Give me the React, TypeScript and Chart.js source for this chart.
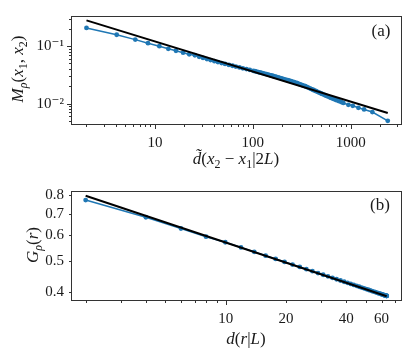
import React, { useEffect, useRef } from "react";
import { Chart, registerables } from "chart.js";
Chart.register(...registerables);

// ---------- Panel (a) data ----------
const topX = [2, 4.07, 6.3, 8.5, 11.1, 13.7, 16.4, 19.4, 22.4, 25.6, 28.3, 31, 34, 37, 40.5, 44, 48, 52, 57, 62, 67, 73, 79, 86, 93,
  101, 105, 109, 113.5, 118, 123, 128, 133, 138, 143.5, 149, 155, 161, 167.5, 174, 181, 188, 195.5, 203, 211, 219, 227.5, 236, 245, 254, 264, 274,
  284.5, 295, 306, 318, 330, 342, 355, 368, 382, 396, 411, 426, 442, 458, 475, 492, 510, 528, 547, 567, 588, 609, 631, 654, 678, 702, 730, 760, 800,
  840, 945, 1048, 1196, 1367, 1661, 2386];
const topY = [0.2075, 0.158, 0.13, 0.1125, 0.1, 0.09, 0.0832, 0.0769, 0.0723, 0.0695, 0.0651, 0.0624, 0.0597, 0.0572, 0.0548, 0.0528, 0.0507, 0.049, 0.0471, 0.0456, 0.0441, 0.04255, 0.0412, 0.0399, 0.0387,
  0.03724, 0.03666, 0.03607, 0.03544, 0.03483, 0.0342, 0.03365, 0.03305, 0.0325, 0.03195, 0.0314, 0.03083, 0.03026, 0.02971, 0.02918, 0.02865, 0.02808, 0.02758, 0.02704, 0.0265, 0.02598, 0.02547, 0.02498, 0.02449, 0.02404, 0.02356, 0.0231,
  0.02262, 0.02209, 0.02158, 0.02104, 0.02054, 0.02006, 0.01957, 0.01902, 0.01846, 0.01793, 0.01741, 0.01692, 0.01644, 0.016, 0.01556, 0.01514, 0.01473, 0.01434, 0.01397, 0.0136, 0.01323, 0.01289, 0.01256, 0.01225, 0.01194, 0.01165, 0.01134, 0.01102, 0.01063,
  0.01027, 0.00951, 0.00914, 0.00845, 0.00791, 0.00713, 0.00501];
const topFitX = [2, 2386];
const topFitY = [0.281, 0.00685];
const topXLabels = [10, 100, 1000];
const topXMinor = [2, 3, 4, 5, 6, 7, 8, 9, 20, 30, 40, 50, 60, 70, 80, 90, 200, 300, 400, 500, 600, 700, 800, 900, 2000, 3000];
const topYLabels = [0.01, 0.1];
const topYLabelText = ["10\u207B\u00B2", "10\u207B\u00B9"];
const topYMinor = [0.005, 0.006, 0.007, 0.008, 0.009, 0.02, 0.03, 0.04, 0.05, 0.06, 0.07, 0.08, 0.09, 0.2, 0.3];

// ---------- Panel (b) data ----------
const botX = [2, 3.997, 5.982, 7.979, 9.959, 11.929, 13.887, 15.832, 17.761, 19.673, 21.565, 23.436, 25.283, 27.106, 28.902, 30.669, 32.406, 34.112, 35.783, 37.419, 39.019, 40.58, 42.1, 43.579, 45.016, 46.408, 47.753, 49.052, 50.303, 51.503, 52.653, 53.751, 54.796, 55.787, 56.723, 57.603, 58.426, 59.191, 59.898, 60.546, 61.134, 61.662, 62.129, 62.534, 62.878, 63.16, 63.38, 63.536, 63.631, 63.662];
const botY = [0.773, 0.683, 0.63, 0.594, 0.5707, 0.5497, 0.5325, 0.5183, 0.506, 0.4955, 0.4861, 0.4778, 0.4702, 0.4634, 0.4573, 0.4517, 0.4466, 0.4419, 0.4374, 0.4334, 0.4296, 0.4261, 0.4228, 0.4198, 0.417, 0.4143, 0.4119, 0.4096, 0.4074, 0.4055, 0.4036, 0.4018, 0.4002, 0.3987, 0.3973, 0.396, 0.3949, 0.3938, 0.3928, 0.3919, 0.3911, 0.3904, 0.3898, 0.3893, 0.3889, 0.3885, 0.3882, 0.388, 0.3879, 0.3879];
const botFitX = [2, 63.66];
const botFitY = [0.797, 0.387];
const botXLabels = [10, 20, 40, 60];
const botXMajor = [10];
const botXMinor = [2, 3, 4, 5, 6, 7, 8, 9, 20, 30, 40, 50, 60, 70];
const botYLabels = [0.4, 0.5, 0.6, 0.7, 0.8];

const BLUE = "#1f77b4";
const SERIF = '"Liberation Serif", "DejaVu Serif", serif';
const TXT = "#1a1a1a";

type Seg = { t: string; s: "i" | "r" | "sub" | "subi" };

function drawRich(ctx: CanvasRenderingContext2D, segs: Seg[], cx: number, cy: number, rot: number, size: number) {
  const sub = Math.round(size * 0.7);
  const fontOf = (s: Seg["s"]) =>
    s === "i" ? `italic ${size}px ${SERIF}` : s === "r" ? `${size}px ${SERIF}` : s === "sub" ? `${sub}px ${SERIF}` : `italic ${sub}px ${SERIF}`;
  let total = 0;
  const widths = segs.map((g) => {
    ctx.font = fontOf(g.s);
    const w = ctx.measureText(g.t).width;
    total += w;
    return w;
  });
  ctx.save();
  ctx.translate(cx, cy);
  ctx.rotate(rot);
  ctx.fillStyle = TXT;
  ctx.textBaseline = "alphabetic";
  ctx.textAlign = "left";
  let x = -total / 2;
  const base = size * 0.33;
  segs.forEach((g, i) => {
    ctx.font = fontOf(g.s);
    const dy = g.s === "sub" || g.s === "subi" ? size * 0.25 : 0;
    ctx.fillText(g.t, x, base + dy);
    x += widths[i];
  });
  ctx.restore();
}

type Deco = {
  xMajor: number[];
  xMinor: number[];
  yMajor: number[];
  yMinor: number[];
  xTitle: Seg[];
  xTitlePos: [number, number];
  yTitle: Seg[];
  yTitlePos: [number, number];
  panel: string;
  panelPos: [number, number];
};

function decoPlugin(d: Deco) {
  return {
    id: "deco",
    afterDraw(chart: any) {
      const { ctx, chartArea: a, scales } = chart;
      ctx.save();
      ctx.strokeStyle = "#333";
      ctx.lineWidth = 1;
      const L = Math.round(a.left) + 0.5;
      const R = Math.round(a.right) - 0.5;
      const T = Math.round(a.top) + 0.5;
      const B = Math.round(a.bottom) - 0.5;
      ctx.strokeRect(L, T, R - L, B - T);
      const line = (x1: number, y1: number, x2: number, y2: number) => {
        ctx.beginPath();
        ctx.moveTo(x1, y1);
        ctx.lineTo(x2, y2);
        ctx.stroke();
      };
      const xs = scales.x;
      const ys = scales.y;
      d.xMajor.forEach((v) => {
        const p = Math.round(xs.getPixelForValue(v)) + 0.5;
        line(p, B, p, B + 4.5);
      });
      d.xMinor.forEach((v) => {
        const p = Math.round(xs.getPixelForValue(v)) + 0.5;
        if (p >= L - 1 && p <= R + 1) line(p, B, p, B + 2.5);
      });
      d.yMajor.forEach((v) => {
        const p = Math.round(ys.getPixelForValue(v)) + 0.5;
        line(L, p, L - 4.5, p);
      });
      d.yMinor.forEach((v) => {
        const p = Math.round(ys.getPixelForValue(v)) + 0.5;
        if (p >= T - 1 && p <= B + 1) line(L, p, L - 2.5, p);
      });
      drawRich(ctx, d.xTitle, d.xTitlePos[0], d.xTitlePos[1], 0, 17);
      drawRich(ctx, d.yTitle, d.yTitlePos[0], d.yTitlePos[1], -Math.PI / 2, 17);
      ctx.font = `17px ${SERIF}`;
      ctx.fillStyle = TXT;
      ctx.textAlign = "center";
      ctx.textBaseline = "middle";
      ctx.fillText(d.panel, d.panelPos[0], d.panelPos[1]);
      ctx.restore();
    },
  };
}

function makeChart(
  canvas: HTMLCanvasElement,
  xs: number[],
  ys: number[],
  fx: number[],
  fy: number[],
  xRange: [number, number],
  yRange: [number, number],
  xLabels: number[],
  yLabels: number[],
  xFmt: (v: number) => string,
  yFmt: (v: number) => string,
  deco: Deco
) {
  return new Chart(canvas, {
    type: "line",
    data: {
      datasets: [
        {
          data: fx.map((x, i) => ({ x, y: fy[i] })),
          borderColor: "#000",
          borderWidth: 2,
          pointRadius: 0,
          order: 0,
        },
        {
          data: xs.map((x, i) => ({ x, y: ys[i] })),
          borderColor: BLUE,
          backgroundColor: BLUE,
          pointBackgroundColor: BLUE,
          pointBorderWidth: 0,
          borderWidth: 1.5,
          pointRadius: 2.4,
          order: 1,
        },
      ],
    },
    options: {
      animation: false,
      responsive: false,
      layout: { padding: { top: 13, right: 13, left: 0, bottom: 0 } },
      plugins: { legend: { display: false }, tooltip: { enabled: false } },
      scales: {
        x: {
          type: "logarithmic",
          min: xRange[0],
          max: xRange[1],
          bounds: "data",
          grid: { display: false, drawTicks: false },
          border: { display: false },
          afterBuildTicks: (s: any) => {
            s.ticks = xLabels.map((v) => ({ value: v }));
          },
          afterFit: (s: any) => {
            s.height = 55;
          },
          ticks: {
            autoSkip: false,
            maxRotation: 0,
            padding: 9,
            color: TXT,
            font: { family: SERIF, size: 15 },
            callback: (v: any) => xFmt(Number(v)),
          },
        },
        y: {
          type: "logarithmic",
          min: yRange[0],
          max: yRange[1],
          bounds: "data",
          grid: { display: false, drawTicks: false },
          border: { display: false },
          afterBuildTicks: (s: any) => {
            s.ticks = yLabels.map((v) => ({ value: v }));
          },
          afterFit: (s: any) => {
            s.width = 71;
          },
          ticks: {
            autoSkip: false,
            padding: 7,
            color: TXT,
            font: { family: SERIF, size: 15 },
            callback: (v: any) => yFmt(Number(v)),
          },
        },
      },
    } as any,
    plugins: [decoPlugin(deco)],
  });
}

export default function App() {
  const topRef = useRef<HTMLCanvasElement>(null);
  const botRef = useRef<HTMLCanvasElement>(null);
  useEffect(() => {
    const c1 = makeChart(
      topRef.current!,
      topX,
      topY,
      topFitX,
      topFitY,
      [1.39, 3335],
      [0.00424, 0.335],
      topXLabels,
      topYLabels,
      (v) => String(v),
      (v) => topYLabelText[topYLabels.indexOf(v)] ?? "",
      {
        xMajor: topXLabels,
        xMinor: topXMinor,
        yMajor: topYLabels,
        yMinor: topYMinor,
        xTitle: [
          { t: "d\u0303", s: "i" },
          { t: "(", s: "r" },
          { t: "x", s: "i" },
          { t: "2", s: "sub" },
          { t: " \u2212 ", s: "r" },
          { t: "x", s: "i" },
          { t: "1", s: "sub" },
          { t: "|2", s: "r" },
          { t: "L", s: "i" },
          { t: ")", s: "r" },
        ],
        xTitlePos: [236, 158],
        yTitle: [
          { t: "M", s: "i" },
          { t: "\u03C1", s: "subi" },
          { t: "(", s: "r" },
          { t: "x", s: "i" },
          { t: "1", s: "sub" },
          { t: ", ", s: "r" },
          { t: "x", s: "i" },
          { t: "2", s: "sub" },
          { t: ")", s: "r" },
        ],
        yTitlePos: [17, 69],
        panel: "(a)",
        panelPos: [381, 32],
      }
    );
    const c2 = makeChart(
      botRef.current!,
      botX,
      botY,
      botFitX,
      botFitY,
      [1.69, 75.9],
      [0.374, 0.825],
      botXLabels,
      botYLabels,
      (v) => String(v),
      (v) => v.toFixed(1),
      {
        xMajor: botXMajor,
        xMinor: botXMinor,
        yMajor: [],
        yMinor: botYLabels,
        xTitle: [
          { t: "d", s: "i" },
          { t: "(", s: "r" },
          { t: "r", s: "i" },
          { t: "|", s: "r" },
          { t: "L", s: "i" },
          { t: ")", s: "r" },
        ],
        xTitlePos: [246, 163],
        yTitle: [
          { t: "G", s: "i" },
          { t: "\u03C1", s: "subi" },
          { t: "(", s: "r" },
          { t: "r", s: "i" },
          { t: ")", s: "r" },
        ],
        yTitlePos: [32, 70],
        panel: "(b)",
        panelPos: [380, 31],
      }
    );
    return () => {
      c1.destroy();
      c2.destroy();
    };
  }, []);
  return (
    <div style={{ position: "absolute", left: 0, top: 0, width: 415, height: 356, background: "#fff" }}>
      <canvas ref={topRef} width={415} height={180} style={{ position: "absolute", left: 0, top: 0 }} />
      <canvas ref={botRef} width={415} height={181} style={{ position: "absolute", left: 0, top: 175 }} />
    </div>
  );
}
